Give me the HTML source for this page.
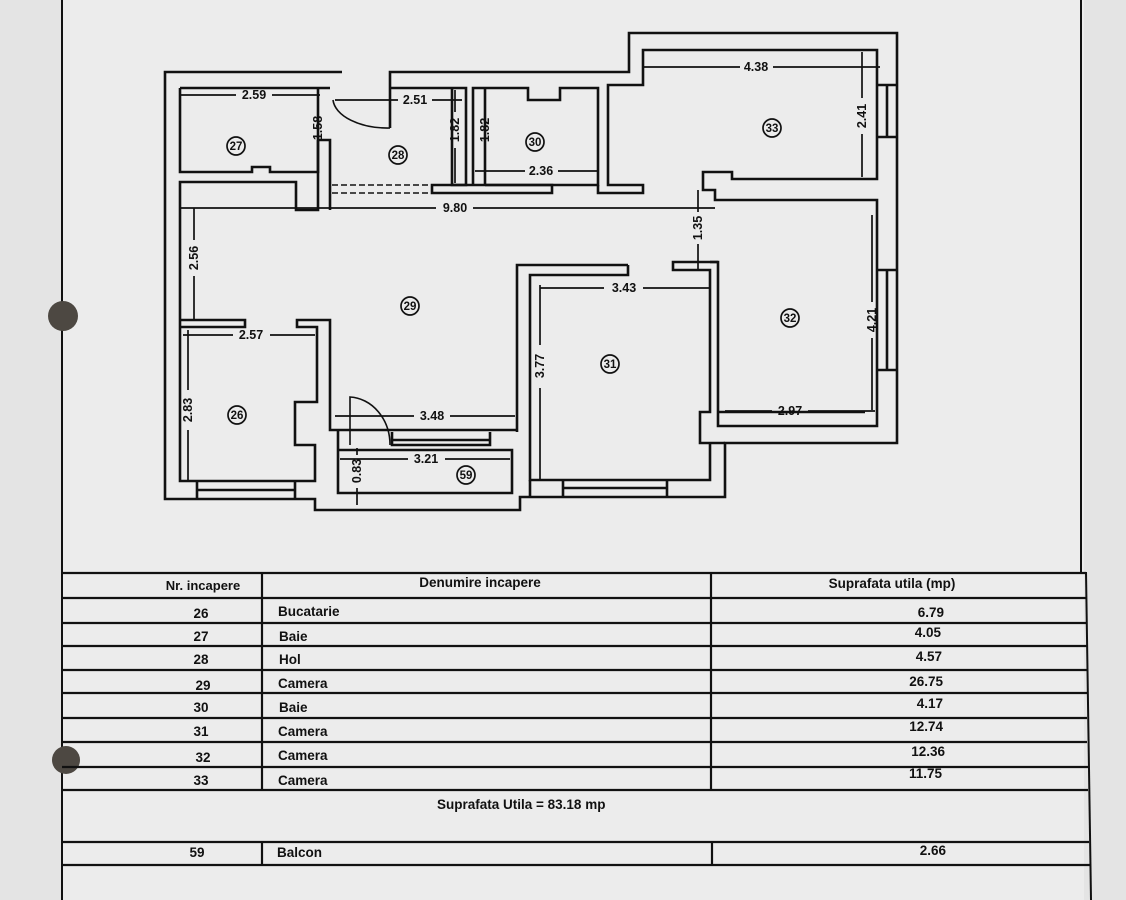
<!DOCTYPE html>
<html><head><meta charset="utf-8"><style>
html,body{margin:0;padding:0;background:#e4e4e4;}
svg{display:block}
text{font-family:"Liberation Sans",sans-serif;font-weight:bold;fill:#111}
</style></head><body>
<svg width="1126" height="900" viewBox="0 0 1126 900" xmlns="http://www.w3.org/2000/svg">
<rect width="1126" height="900" fill="#e4e4e4"/>
<rect x="62" y="0" width="1022" height="900" fill="#ececec"/>
<line x1="62" y1="0" x2="62" y2="900" stroke="#111" stroke-width="2"/>
<line x1="1081" y1="0" x2="1081" y2="572" stroke="#111" stroke-width="2"/>
<line x1="1086" y1="572" x2="1091" y2="900" stroke="#111" stroke-width="2"/>
<circle cx="63" cy="316" r="15" fill="#4d4842"/>
<circle cx="66" cy="760" r="14" fill="#4d4842"/>

<g fill="none" stroke="#111" stroke-width="2.6">
<path d="M342,72 H165 V499 H315 V510 H520 V497 H725 V443 H897 V33 H629 V72 H390 V128"/>
<path d="M333,100 A55,30 0 0 0 390,128" stroke-width="1.6"/>
<path d="M180,88 H330 M180,88 V172 H252 V167 H270 V172 H318 V88"/>
<path d="M318,140 V210 H296 V182 H180 V325"/>
<path d="M318,140 H330 V210"/>
<path d="M390,88 H466 V185 H452 V88"/>
<path d="M332,185 H432 M332,193 H432" stroke-dasharray="6,3" stroke-width="1.6"/>
<path d="M432,185 H552 V193 H432 Z"/>
<path d="M473,185 V88 H528 V100 H560 V88 H598 V185 H485 M485,88 V185"/>
<path d="M598,185 V193 H643 V185 H608 V85 H643 V50 H877 V85 M897,85 H877 V137 H897 M877,137 V179 H732 V172 H703 V190 H715 V200 H730"/>
<path d="M887,85 V137"/>
<path d="M730,200 H877 V270 H897 M877,270 V370 H897 M887,270 V370 M877,370 V426 H718 V262 H710"/>
<path d="M718,262 H673 V270 H710 V412 H700 V443 H725"/>
<path d="M718,412 H865"/>
<path d="M628,265 H517 V432 M628,265 V275 H530 V480 H710 V443"/>
<path d="M530,480 V497 M563,480 V497 M667,480 V497 M563,488 H667"/>
<path d="M180,325 V481 H315 V445 H295 V402 H317 V327 H297 V320 H330 V430 H517"/>
<path d="M180,327 H245 V320 H180"/>
<path d="M197,481 V499 M295,481 V499 M197,490 H295"/>
<path d="M338,430 V450 H512 V493 H338 V450"/>
<path d="M392,432 V445 H490 V432 M392,440 H490"/>
<path d="M350,445 V397 A42,48 0 0 1 390,445" stroke-width="1.6"/>
</g>

<g stroke="#111" stroke-width="1.7" fill="none">
<path d="M180,95 H236 M272,95 H320"/>
<path d="M335,100 H398 M432,100 H462"/>
<path d="M318,90 V112 M318,145 V170"/>
<path d="M455,90 V112 M455,148 V183"/>
<path d="M485,90 V112 M485,148 V183"/>
<path d="M475,171 H525 M558,171 H598"/>
<path d="M642,67 H740 M773,67 H880"/>
<path d="M862,52 V98 M862,134 V177"/>
<path d="M180,208 H436 M473,208 H715"/>
<path d="M698,190 V212 M698,244 V270"/>
<path d="M194,208 V240 M194,276 V320"/>
<path d="M540,288 H604 M643,288 H710"/>
<path d="M540,285 V345 M540,388 V480"/>
<path d="M872,215 V302 M872,338 V410"/>
<path d="M725,411 H772 M808,411 H875"/>
<path d="M183,335 H233 M270,335 H315"/>
<path d="M188,330 V390 M188,430 V480"/>
<path d="M335,416 H414 M450,416 H515"/>
<path d="M340,459 H408 M445,459 H510"/>
<path d="M357,448 V455 M357,488 V505"/>
</g>
<g font-size="12.5" text-anchor="middle">
<text x="254" y="99">2.59</text>
<text x="415" y="104">2.51</text>
<text x="541" y="175">2.36</text>
<text x="756" y="71">4.38</text>
<text x="455" y="212">9.80</text>
<text x="624" y="292">3.43</text>
<text x="790" y="415">2.97</text>
<text x="251" y="339">2.57</text>
<text x="432" y="420">3.48</text>
<text x="426" y="463">3.21</text>
<text transform="translate(322,128) rotate(-90)">1.58</text>
<text transform="translate(459,130) rotate(-90)">1.82</text>
<text transform="translate(489,130) rotate(-90)">1.82</text>
<text transform="translate(866,116) rotate(-90)">2.41</text>
<text transform="translate(702,228) rotate(-90)">1.35</text>
<text transform="translate(198,258) rotate(-90)">2.56</text>
<text transform="translate(544,366) rotate(-90)">3.77</text>
<text transform="translate(876,320) rotate(-90)">4.21</text>
<text transform="translate(192,410) rotate(-90)">2.83</text>
<text transform="translate(361,471) rotate(-90)">0.83</text>
</g>
<g fill="none" stroke="#111" stroke-width="1.7">
<circle cx="236" cy="146" r="9"/><circle cx="398" cy="155" r="9"/><circle cx="535" cy="142" r="9"/>
<circle cx="772" cy="128" r="9"/><circle cx="410" cy="306" r="9"/><circle cx="790" cy="318" r="9"/>
<circle cx="610" cy="364" r="9"/><circle cx="237" cy="415" r="9"/><circle cx="466" cy="475" r="9"/>
</g>
<g font-size="11.5" text-anchor="middle">
<text x="236" y="150">27</text><text x="398" y="159">28</text><text x="535" y="146">30</text>
<text x="772" y="132">33</text><text x="410" y="310">29</text><text x="790" y="322">32</text>
<text x="610" y="368">31</text><text x="237" y="419">26</text><text x="466" y="479">59</text>
</g>

<g stroke="#111" stroke-width="2.2" fill="none">
<path d="M62,573 H1086 M62,598 H1086 M62,623 H1087 M62,646 H1087 M62,670 H1087 M62,693 H1087 M62,718 H1087 M62,742 H1087 M62,767 H1088 M62,790 H1088 M62,842 H1089 M62,865 H1090"/>
<path d="M262,573 V790 M711,573 V790 M262,842 V865 M712,842 V865"/>
</g>
<g font-size="13.5">
<text x="203" y="590" text-anchor="middle" font-size="13">Nr. incapere</text>
<text x="480" y="587" text-anchor="middle">Denumire incapere</text>
<text x="892" y="588" text-anchor="middle">Suprafata utila (mp)</text>
<g text-anchor="middle">
<text x="201" y="618">26</text><text x="201" y="641">27</text><text x="201" y="664">28</text>
<text x="203" y="690">29</text><text x="201" y="712">30</text><text x="201" y="736">31</text>
<text x="203" y="762">32</text><text x="201" y="785">33</text><text x="197" y="857">59</text>
</g>
<text x="278" y="616">Bucatarie</text><text x="279" y="641">Baie</text><text x="279" y="664">Hol</text>
<text x="278" y="688">Camera</text><text x="279" y="712">Baie</text><text x="278" y="736">Camera</text>
<text x="278" y="760">Camera</text><text x="278" y="785">Camera</text><text x="277" y="857">Balcon</text>
<g text-anchor="end">
<text x="944" y="617">6.79</text><text x="941" y="637">4.05</text><text x="942" y="661">4.57</text>
<text x="943" y="686">26.75</text><text x="943" y="708">4.17</text><text x="943" y="731">12.74</text>
<text x="945" y="756">12.36</text><text x="942" y="778">11.75</text><text x="946" y="855">2.66</text>
</g>
<text x="437" y="809">Suprafata Utila =  83.18 mp</text>
</g>
</svg>
</body></html>
